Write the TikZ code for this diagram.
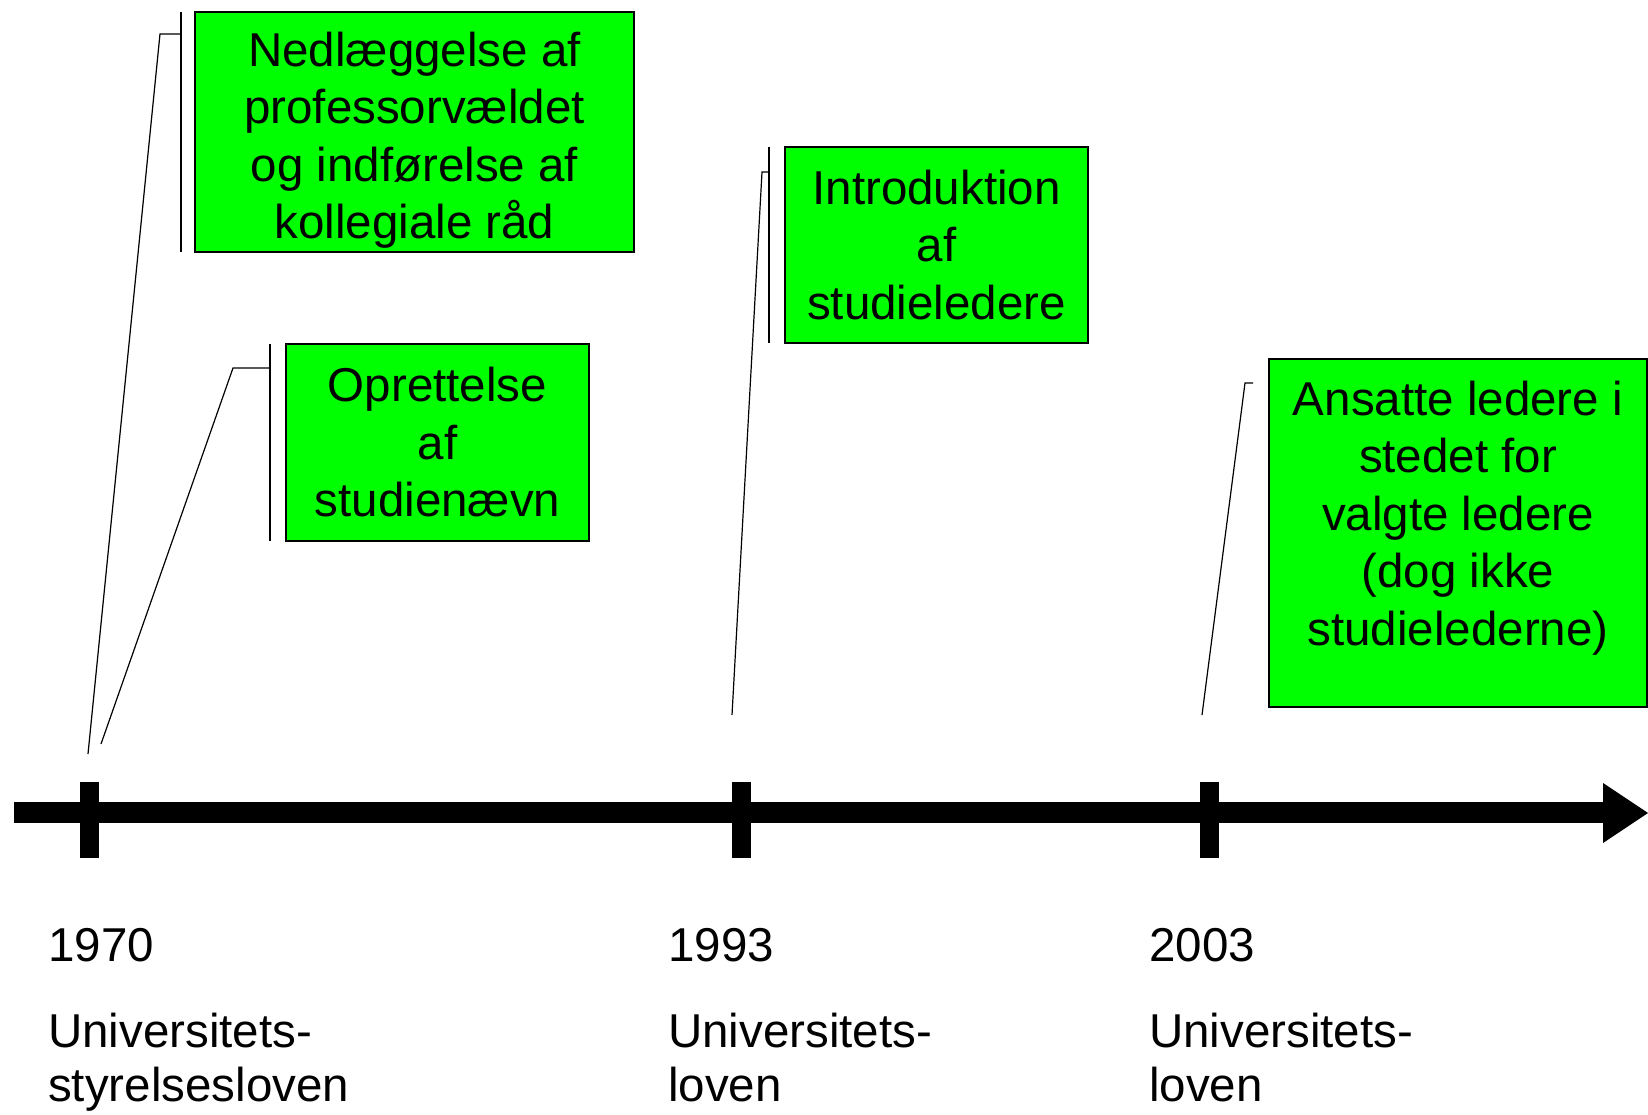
\documentclass[tikz,border=0pt]{standalone}
\usepackage{fontspec}
\setmainfont{Liberation Sans}
\definecolor{boxgreen}{HTML}{00FF00}
\begin{document}
\begin{tikzpicture}[x=1pt,y=-1pt,
  gbox/.style={draw=black, line width=1.6pt, fill=boxgreen, inner sep=0pt, align=center,
    font=\fontsize{47.5}{57.5}\selectfont},
  txt/.style={inner sep=0pt, align=center, font=\fontsize{47.5}{57.5}\selectfont},
  lbl/.style={inner sep=0pt, anchor=base west, align=left, font=\fontsize{47.5}{54}\selectfont},
  bar/.style={line width=2pt},
  leader/.style={line width=1.2pt},
  tick/.style={fill=black}]
\useasboundingbox (0,0) rectangle (1648,1114);
% axis
\fill (14,802) rectangle (1604,823);
\fill (1603,783) -- (1648,813) -- (1603,843) -- cycle;
\foreach \x in {89,741,1209} {\fill[tick] (\x-9.5,782) rectangle (\x+9.5,858);}
% boxes
\node[gbox, minimum width=439, minimum height=240] (b1) at (414.5,132) {};
\node[txt] (t1) at (414.5,140)
  {Nedlæggelse af\\professorvældet\\og indførelse af\\kollegiale råd};
\node[gbox, minimum width=303, minimum height=197] (b2) at (437.5,442.5)
  {Oprettelse\\af\\studienævn};
\node[gbox, minimum width=303, minimum height=196] (b3) at (936.5,245)
  {Introduktion\\af\\studieledere};
\node[gbox, minimum width=378, minimum height=348] (b4) at (1458,533) {};
\node[txt] (t4) at (1458,518)
  {Ansatte ledere i\\stedet for\\valgte ledere\\(dog ikke\\studielederne)};
% callouts
\coordinate (e1) at (88,754);
\coordinate (e2) at (101,744);
\coordinate (e3) at (732,715);
\coordinate (e4) at (1202,715);
\draw[bar] (181,12) -- (181,252);
\draw[leader] (e1) -- (160,34) -- (181,34);
\draw[bar] (270,344) -- (270,541);
\draw[leader] (e2) -- (233,368) -- (270,368);
\draw[bar] (769,147) -- (769,343);
\draw[leader] (e3) -- (762,172) -- (769,172);
\draw[leader] (e4) -- (1245,383) -- (1253,383);
% labels
\node[lbl] (y1) at (48,961) {1970};
\node[lbl] (l1) at (48,1101) {Universitets-\\styrelsesloven};
\node[lbl] (y2) at (668,961) {1993};
\node[lbl] (l2) at (668,1101) {Universitets-\\loven};
\node[lbl] (y3) at (1149,961) {2003};
\node[lbl] (l3) at (1149,1101) {Universitets-\\loven};
\end{tikzpicture}
\end{document}
